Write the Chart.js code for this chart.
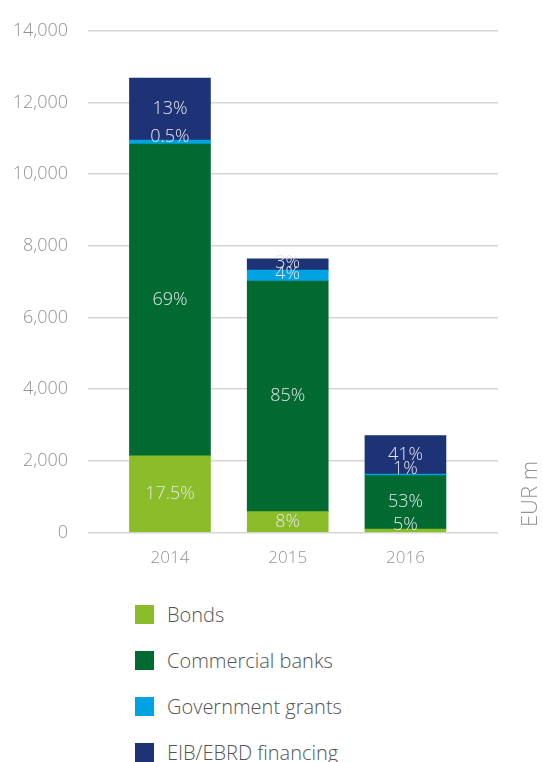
<!DOCTYPE html>
<html>
<head>
<meta charset="utf-8">
<script src="https://cdn.jsdelivr.net/npm/chart.js@4/dist/chart.umd.min.js"></script>
<style>
  body { margin: 0; background: #fff; font-family: "Open Sans", sans-serif; }
  #wrap { position: relative; width: 543px; height: 762px; overflow: hidden; }
  #legend { position: absolute; left: 135px; top: 592px; }
  .item { height: 46px; line-height: 46px; font-size: 20px; font-weight: 300; color: #555; white-space: nowrap; }
  .box { display: inline-block; width: 19px; height: 19px; vertical-align: middle; margin-right: 13px; position: relative; top: -2px; }
</style>
</head>
<body>
<div id="wrap">
  <canvas id="myChart" width="543" height="583"></canvas>
  <div id="legend"></div>
</div>
<script>
var years = [2014, 2015, 2016];
var yTicks = [0, 2000, 4000, 6000, 8000, 10000, 12000, 14000];

var bonds = [2140, 585, 100];
var commercial = [8700, 6435, 1490];
var grants = [110, 305, 40];
var eib = [1730, 310, 1075];

var bondsPct = ['17.5%', '8%', '5%'];
var commercialPct = ['69%', '85%', '53%'];
var grantsPct = ['0.5%', '4%', '1%'];
var eibPct = ['13%', '3%', '41%'];

var names = ['Bonds', 'Commercial banks', 'Government grants', 'EIB/EBRD financing'];
var colores = ['#8abd29', '#006a31', '#00a3e2', '#1e3276'];

function serie(valores) {
  return years.map(function (y, i) { return { x: y, y: valores[i] }; });
}

var seriesVals = [bonds, commercial, grants, eib];
var seriesPct = [bondsPct, commercialPct, grantsPct, eibPct];

// labels inside the segments, pushed apart from the top down
var pctPlugin = {
  id: 'pct',
  afterDatasetsDraw: function (chart) {
    var ctx = chart.ctx;
    ctx.save();
    ctx.font = '300 18px "Open Sans"';
    ctx.fillStyle = '#e4e6ea';
    ctx.textAlign = 'center';
    ctx.textBaseline = 'middle';
    for (var i = 0; i < years.length; i++) {
      var prev = -1000;
      for (var d = chart.data.datasets.length - 1; d >= 0; d--) {
        var bar = chart.getDatasetMeta(d).data[i];
        var yc = (bar.y + bar.base) / 2;
        yc = Math.max(yc, prev + 17);
        yc = Math.min(yc, bar.base - 7);
        ctx.fillText(seriesPct[d][i], bar.x, yc);
        prev = yc;
      }
    }
    ctx.restore();
  }
};

var unitPlugin = {
  id: 'unit',
  afterDraw: function (chart) {
    var ctx = chart.ctx;
    ctx.save();
    ctx.translate(531, 494);
    ctx.rotate(-Math.PI / 2);
    ctx.font = '300 22px "Open Sans"';
    ctx.fillStyle = '#939393';
    ctx.textAlign = 'center';
    ctx.textBaseline = 'middle';
    ctx.fillText('EUR m', 0, 0);
    ctx.restore();
  }
};

var ctx = document.getElementById('myChart');
var myChart = new Chart(ctx, {
  type: 'bar',
  data: {
    datasets: names.map(function (n, k) {
      return {
        label: n,
        data: serie(seriesVals[k]),
        backgroundColor: colores[k],
        borderWidth: 0,
        barThickness: 81
      };
    })
  },
  options: {
    responsive: false,
    animation: false,
    layout: { padding: { top: 21, right: 45, bottom: 8, left: 0 } },
    plugins: { legend: { display: false }, tooltip: { enabled: false } },
    scales: {
      x: {
        type: 'linear',
        stacked: true,
        offset: false,
        min: 2013.304,
        max: 2016.786,
        afterBuildTicks: function (s) { s.ticks = years.map(function (v) { return { value: v }; }); },
        grid: { display: false, offset: false },
        border: { display: false },
        ticks: {
          color: '#939393',
          font: { family: 'Open Sans', size: 17, weight: 300 },
          padding: 7,
          maxRotation: 0,
          callback: function (v) { return String(v); }
        }
      },
      y: {
        stacked: true,
        min: 0,
        max: 14000,
        afterBuildTicks: function (s) { s.ticks = yTicks.map(function (v) { return { value: v }; }); },
        afterFit: function (s) { s.width = 88; },
        grid: { color: '#d6d6d6', lineWidth: 1.5, drawTicks: false },
        border: { display: false },
        ticks: {
          color: '#939393',
          font: { family: 'Open Sans', size: 18, weight: 300 },
          padding: 20,
          callback: function (v) { return v.toLocaleString('en-US'); }
        }
      }
    }
  },
  plugins: [pctPlugin, unitPlugin]
});

var leg = document.getElementById('legend');
names.forEach(function (n, k) {
  leg.innerHTML += '<div class="item"><span class="box" style="background:' + colores[k] + '"></span>' + n + '</div>';
});
</script>
</body>
</html>
